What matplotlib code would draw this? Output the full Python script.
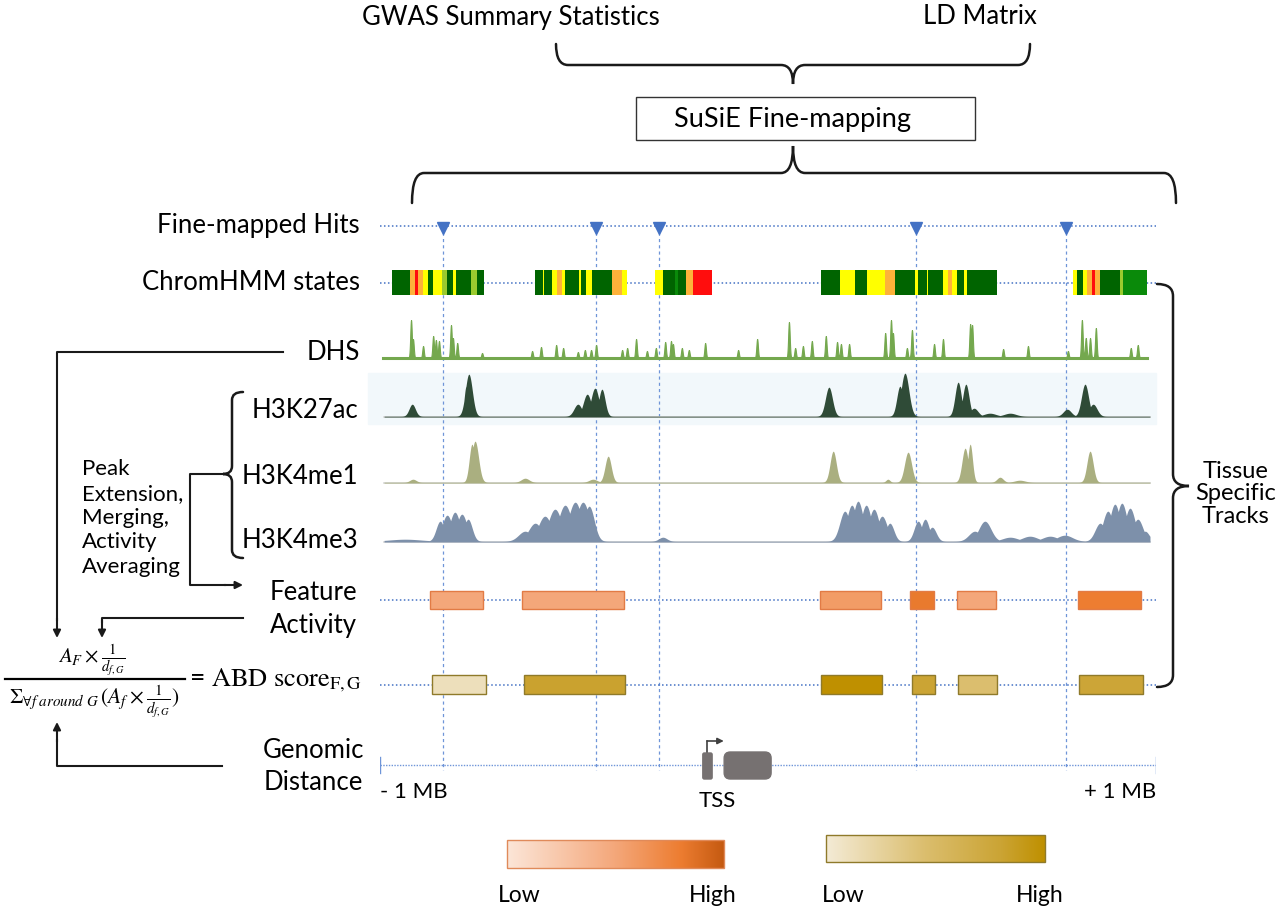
import numpy as np
import matplotlib.pyplot as plt
from matplotlib.path import Path
from matplotlib.patches import PathPatch, Rectangle, FancyBboxPatch
from matplotlib.colors import LinearSegmentedColormap

plt.rcParams['font.family'] = ['Lato', 'DejaVu Sans']
plt.rcParams['mathtext.fontset'] = 'stix'

# ---- data (genomic positions in kb relative to window centre) ----
hits_kb = [-838, -443, -281, 381, 768]

# ChromHMM segments: (start, end, state)
chrom_segments = [
    (-969, -923, 'D'), (-923, -910, 'O'), (-910, -902, 'R'), (-902, -889, 'O'),
    (-889, -876, 'Y'), (-876, -863, 'D'), (-863, -840, 'Y'), (-840, -827, 'L'),
    (-827, -812, 'D'), (-812, -804, 'Y'), (-804, -765, 'D'), (-765, -750, 'L'),
    (-750, -732, 'D'),
    (-600, -580, 'D'), (-580, -577, 'Y'), (-577, -557, 'D'), (-557, -544, 'Y'),
    (-544, -531, 'O'), (-531, -523, 'Y'), (-523, -487, 'D'), (-487, -482, 'Y'),
    (-482, -469, 'D'), (-469, -454, 'Y'), (-454, -402, 'D'), (-402, -376, 'O'),
    (-376, -363, 'Y'),
    (-291, -271, 'Y'), (-271, -240, 'D'), (-240, -232, 'G'), (-232, -211, 'D'),
    (-211, -193, 'O'), (-193, -144, 'R'),
    (137, 186, 'D'), (186, 224, 'Y'), (224, 255, 'D'), (255, 302, 'Y'),
    (302, 327, 'O'), (327, 379, 'D'), (379, 387, 'Y'), (387, 410, 'D'),
    (410, 412, 'Y'), (412, 451, 'D'), (451, 464, 'Y'), (464, 474, 'O'),
    (474, 487, 'Y'), (487, 505, 'D'), (505, 513, 'Y'), (513, 590, 'D'),
    (786, 796, 'Y'), (796, 812, 'D'), (812, 822, 'Y'), (822, 835, 'O'),
    (835, 843, 'R'), (843, 856, 'O'), (856, 907, 'D'), (907, 915, 'L'),
    (915, 977, 'G'),
]
state_colors = {'D': '#006400', 'G': '#0A8A0A', 'Y': '#FFFF00', 'O': '#FDB23A',
                'R': '#FF0D0D', 'L': '#9BCB2E'}

dhs_kb = [-920, -915, -889, -863, -856, -848, -817, -812, -801, -737, -608, -585,
          -546, -528, -490, -472, -456, -443, -376, -363, -340, -312, -289, -265,
          -250, -245, -222, -204, -162, -77, -28, 54, 70, 90, 113, 149, 178, 188,
          209, 302, 317, 322, 358, 371, 428, 451, 521, 526, 606, 670, 773, 809,
          819, 830, 845, 935, 953]
dhs_height = [38, 19, 12, 22, 18, 17, 33, 20, 15, 5, 7, 11,
              13, 10, 6, 8, 8, 13, 8, 10, 19, 7, 10, 16,
              17, 14, 10, 8, 15, 8, 19, 36, 10, 12, 17, 22, 16, 14,
              14, 25, 38, 25, 10, 28, 14, 19, 34, 33, 9, 12, 7, 38,
              20, 20, 30, 10, 13]

# histone peaks: (centre, width, height)
h3k27ac_peaks = [(-917, 8, 12), (-778, 5, 30), (-771, 9, 42), (-490, 10, 12),
                 (-466, 10, 22), (-446, 10, 28), (-428, 8, 27), (157, 9, 29),
                 (340, 8, 30), (353, 10, 43), (490, 8, 34), (510, 8, 32),
                 (531, 10, 8), (572, 15, 3), (624, 15, 3), (771, 10, 7),
                 (817, 9, 32), (838, 10, 12)]
h3k4me1_peaks = [(-915, 8, 3), (-763, 7, 38), (-755, 9, 41), (-626, 10, 4),
                 (-451, 10, 3), (-412, 8, 26), (168, 8, 31), (309, 5, 3),
                 (361, 9, 30), (508, 8, 34), (521, 6, 38), (598, 8, 5),
                 (649, 13, 2), (830, 8, 31)]
h3k4me3_peaks = [(-935, 31, 2), (-845, 8, 20), (-827, 10, 26), (-807, 10, 29),
                 (-789, 10, 27), (-773, 8, 22), (-626, 13, 10), (-600, 13, 18),
                 (-575, 13, 25), (-549, 13, 32), (-523, 13, 36), (-497, 13, 39),
                 (-477, 13, 39), (-461, 10, 35), (-271, 8, 4), (198, 10, 30),
                 (216, 10, 36), (232, 10, 40), (253, 10, 36), (273, 10, 32),
                 (294, 10, 25), (314, 8, 18), (387, 8, 20), (405, 8, 22),
                 (423, 8, 14), (533, 12, 10), (559, 12, 20), (624, 15, 4),
                 (675, 15, 5), (727, 15, 5), (765, 15, 6), (856, 10, 18),
                 (876, 10, 30), (894, 10, 37), (912, 10, 38), (933, 10, 33),
                 (953, 10, 22), (972, 8, 10)]

feature_start = [-871, -634, 134, 366, 487, 799]
feature_end = [-734, -371, 291, 428, 588, 961]
feature_activity = [0.5, 0.5, 0.58, 0.82, 0.5, 0.8]

abd_start = [-867, -629, 137, 371, 490, 801]
abd_end = [-728, -369, 294, 430, 590, 966]
abd_score = [0.12, 0.82, 1.0, 0.8, 0.45, 0.78]

tss_kb = -156
exon_start = [-168, -113]
exon_end = [-144, 8]

orange_cmap = LinearSegmentedColormap.from_list(
    'act', [(0, '#FCE6D8'), (0.5, '#F4A77A'), (0.8, '#ED7D31'), (1, '#C55A11')])
olive_cmap = LinearSegmentedColormap.from_list(
    'abd', [(0, '#F4EBD6'), (0.45, '#DBBE6E'), (0.8, '#CBA434'), (1, '#BF9000')])

# ---- figure ----
fig = plt.figure(figsize=(12.8, 9.13), dpi=100)
tr = fig.add_axes([380 / 1280, 0, 776 / 1280, 1])
tr.set_xlim(-1000, 1000)
tr.set_ylim(913, 0)
tr.axis('off')
ax = fig.add_axes([0, 0, 1, 1])
ax.set_xlim(0, 1280)
ax.set_ylim(913, 0)
ax.axis('off')
ax.patch.set_alpha(0)

dot_blue = '#4472C4'
dots = dict(color=dot_blue, lw=1.1, ls=(0, (1, 1.6)))

# fine-mapped hits
tr.plot([-1000, 1000], [226, 226], **dots)
for h in hits_kb:
    tr.plot([h, h], [226, 770], color='#6F95D8', lw=0.9, ls=(0, (2.5, 2.5)), zorder=1)
tr.plot(hits_kb, [228] * len(hits_kb), 'v', color=dot_blue, ms=8, zorder=4)

# ChromHMM
tr.plot([-1000, 1000], [283, 283], **dots)
tr.broken_barh([(s, e - s) for s, e, _ in chrom_segments], (270, 25),
               facecolors=[state_colors[c] for _, _, c in chrom_segments], zorder=3)

x = np.linspace(-1000, 1000, 4001)


def track(peaks, width_scale=1.0):
    sig = np.zeros_like(x)
    for c, w, h in peaks:
        sig = np.maximum(sig, h * np.exp(-0.5 * ((x - c) / (w * width_scale)) ** 2))
    return sig


# DHS
dhs = track([(c, 2, h) for c, h in zip(dhs_kb, dhs_height)])
m = (x > -992) & (x < 977)
tr.fill_between(x[m], 358, 358 - dhs[m], color='#74A84E', lw=0.8, zorder=3)
tr.plot([-992, 977], [358, 358], color='#74A84E', lw=2.2, zorder=3)

# histone tracks
tr.add_patch(Rectangle((-1031, 373), 2031, 51, color='#F2F8FB', zorder=0, clip_on=False))
tracks = [(h3k27ac_peaks, 417, '#2F4B37', 1.0),
          (h3k4me1_peaks, 483, '#AAAF80', 1.0),
          (h3k4me3_peaks, 542, '#7D90AA', 1.3)]
m = (x > -990) & (x < 985)
for peaks, base, col, ws in tracks:
    sig = track(peaks, ws)
    tr.plot([-990, 985], [base, base], color='#D6D6D6', lw=1.2, zorder=2)
    tr.fill_between(x[m], base, base - sig[m] - 0.8, color=col, lw=0, zorder=3)

# feature activity and ABD bars
tr.plot([-1000, 1000], [600, 600], **dots)
for s, e, a in zip(feature_start, feature_end, feature_activity):
    tr.add_patch(Rectangle((s, 591), e - s, 18, facecolor=orange_cmap(a),
                           edgecolor='#E27B45', lw=1, zorder=3))
tr.plot([-1000, 1000], [685, 685], **dots)
for s, e, a in zip(abd_start, abd_end, abd_score):
    tr.add_patch(Rectangle((s, 675), e - s, 19, facecolor=olive_cmap(a),
                           edgecolor='#8F7A2A', lw=1, zorder=3))

# genomic axis and gene
tr.plot([-1000, 1000], [765, 765], color='#6F95D8', lw=1, ls=(0, (1, 1)))
for e in (-1000, 1000):
    tr.plot([e, e], [757, 773], color='#6F95D8', lw=1)
tr.add_patch(FancyBboxPatch((exon_start[0], 753), exon_end[0] - exon_start[0], 26,
                            boxstyle='round,pad=0,rounding_size=4', mutation_aspect=1 / 2.577,
                            color='#767171', zorder=4))
tr.add_patch(FancyBboxPatch((exon_start[1], 752), exon_end[1] - exon_start[1], 27,
                            boxstyle='round,pad=0,rounding_size=16', mutation_aspect=1 / 2.577,
                            color='#767171', zorder=4))
tr.plot([tss_kb, tss_kb], [753, 741], color='#404040', lw=1.2)
tr.annotate('', xy=(tss_kb + 42, 741), xytext=(tss_kb - 1, 741),
            arrowprops=dict(arrowstyle='-|>', color='#404040', lw=1.2, mutation_scale=9,
                            shrinkA=0, shrinkB=0))
tr.text(-1000, 792, '- 1 MB', fontsize=16, ha='left', va='center')
tr.text(1000, 792, '+ 1 MB', fontsize=16, ha='right', va='center')
tr.text(tss_kb + 25, 801, 'TSS', fontsize=16, ha='center', va='center')


# ---- braces ----
def hbrace(x0, x1, xm, y_end, y_mid, y_tip, r=12):
    v = [(x0, y_end), (x0, y_mid), (x0 + r, y_mid), (xm - r, y_mid), (xm, y_mid), (xm, y_tip),
         (xm, y_mid), (xm + r, y_mid), (x1 - r, y_mid), (x1, y_mid), (x1, y_end)]
    c = [Path.MOVETO, Path.CURVE3, Path.CURVE3, Path.LINETO, Path.CURVE3, Path.CURVE3,
         Path.CURVE3, Path.CURVE3, Path.LINETO, Path.CURVE3, Path.CURVE3]
    ax.add_patch(PathPatch(Path(v, c), fill=False, lw=1.8, color='#1a1a1a', capstyle='round'))


def vbrace(y0, y1, ym, x_end, x_mid, x_tip, r=12):
    v = [(x_end, y0), (x_mid, y0), (x_mid, y0 + r), (x_mid, ym - r), (x_mid, ym), (x_tip, ym),
         (x_mid, ym), (x_mid, ym + r), (x_mid, y1 - r), (x_mid, y1), (x_end, y1)]
    c = [Path.MOVETO, Path.CURVE3, Path.CURVE3, Path.LINETO, Path.CURVE3, Path.CURVE3,
         Path.CURVE3, Path.CURVE3, Path.LINETO, Path.CURVE3, Path.CURVE3]
    ax.add_patch(PathPatch(Path(v, c), fill=False, lw=1.8, color='#1a1a1a', capstyle='round'))


hbrace(556, 1030, 793, 44, 65, 84)
hbrace(412, 1176, 793, 203, 173, 146)
vbrace(284, 687, 486, 1157, 1173, 1189)
vbrace(392, 558, 474, 243, 232, 223, r=8)

# ---- header texts ----
ax.text(511, 17, 'GWAS Summary Statistics', fontsize=18.5, ha='center', va='center')
ax.text(980, 17, 'LD Matrix', fontsize=18.5, ha='center', va='center')
ax.add_patch(Rectangle((636, 97), 339, 43, fill=False, ec='#333333', lw=1))
ax.text(792, 119, 'SuSiE Fine-mapping', fontsize=19.5, ha='center', va='center')

# ---- track labels ----
lab = dict(fontsize=18.5, va='center')
ax.text(360, 226, 'Fine-mapped Hits', ha='right', **lab)
ax.text(360, 283, 'ChromHMM states', ha='right', **lab)
ax.text(360, 352, 'DHS', ha='right', **lab)
ax.text(358, 410, 'H3K27ac', ha='right', **lab)
ax.text(358, 477, 'H3K4me1', ha='right', **lab)
ax.text(358, 540, 'H3K4me3', ha='right', **lab)
ax.text(313, 592, 'Feature', ha='center', **lab)
ax.text(313, 626, 'Activity', ha='center', **lab)
ax.text(313, 750, 'Genomic', ha='center', **lab)
ax.text(313, 783, 'Distance', ha='center', **lab)
ax.text(1236, 494, 'Tissue\nSpecific\nTracks', fontsize=17, ha='center', va='center',
        linespacing=1.08)
ax.text(82, 518, 'Peak\nExtension,\nMerging,\nActivity\nAveraging', fontsize=16,
        ha='left', va='center', linespacing=1.27)

# ---- connectors ----
k = dict(color='#1a1a1a', lw=1.5)
arr = dict(arrowstyle='-|>', color='#1a1a1a', lw=1.5, mutation_scale=11, shrinkA=0, shrinkB=0)
ax.plot([283, 57, 57], [352, 352, 620], **k)
ax.annotate('', xy=(57, 638), xytext=(57, 618), arrowprops=arr)
ax.plot([243, 102, 102], [618, 618, 622], **k)
ax.annotate('', xy=(102, 638), xytext=(102, 620), arrowprops=arr)
ax.plot([223, 190, 190, 225], [474, 474, 585, 585], **k)
ax.annotate('', xy=(243, 585), xytext=(224, 585), arrowprops=arr)
ax.plot([222, 57, 57], [766, 766, 740], **k)
ax.annotate('', xy=(57, 722), xytext=(57, 742), arrowprops=arr)

# ---- formula ----
ax.text(92, 660, r'$A_F\times\frac{1}{d_{f,G}}$', fontsize=15, ha='center', va='center')
ax.plot([5, 185], [679, 679], color='black', lw=1.6)
ax.text(94, 702, r'$\Sigma_{\forall f\ around\ G}\,(A_f\times\frac{1}{d_{f,G}})$',
        fontsize=15.5, ha='center', va='center')
ax.text(189, 680, r'= $\mathrm{ABD\ score}_{\mathrm{F,G}}$', fontsize=19, ha='left', va='center')

# ---- colour legends ----
grad = np.linspace(0, 1, 256)[None, :]
ax.imshow(grad, cmap=orange_cmap, extent=[507, 724, 868, 840], aspect='auto', zorder=2)
ax.add_patch(Rectangle((507, 840), 217, 28, fill=False, ec='#E08A5A', lw=1, zorder=3))
ax.imshow(grad, cmap=olive_cmap, extent=[826, 1045, 862, 835], aspect='auto', zorder=2)
ax.add_patch(Rectangle((826, 835), 219, 27, fill=False, ec='#8F7A2A', lw=1, zorder=3))
ax.set_xlim(0, 1280)
ax.set_ylim(913, 0)
for xx, t in [(519, 'Low'), (713, 'High'), (843, 'Low'), (1040, 'High')]:
    ax.text(xx, 896, t, fontsize=16.5, ha='center', va='center')

fig.savefig('out.png', dpi=100)
